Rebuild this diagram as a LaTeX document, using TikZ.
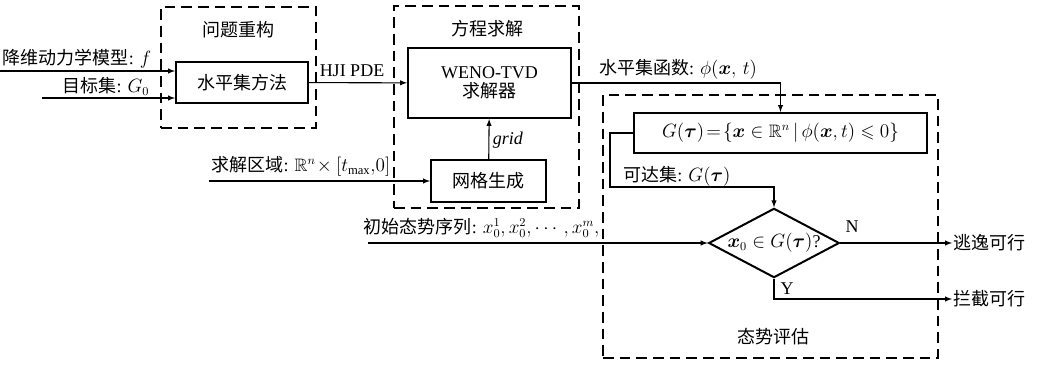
\documentclass[tikz,border=0pt]{standalone}
\usepackage{amsmath}
\usepackage{amssymb}
\usepackage{fontspec}
\setmainfont{Liberation Serif}
\newfontfamily\cjk{Noto Sans CJK SC}
\usetikzlibrary{shapes.geometric, arrows, positioning}
\tikzstyle{block} = [rectangle, draw, line width=1.5pt, inner sep=0pt, text centered]
\tikzstyle{group} = [rectangle, draw, line width=1pt, dash pattern=on 8pt off 4.5pt, inner sep=0pt]
\tikzstyle{decision} = [diamond, draw, line width=1.5pt, inner sep=0pt, aspect=1.9, minimum width=98pt, minimum height=52pt]
\tikzstyle{txt} = [inner sep=1pt]
\tikzstyle{arrow} = [line width=0.8pt,->,>=latex]

\begin{document}
\begin{tikzpicture}[x=0.75pt, y=-0.75pt, font=\fontsize{13.5}{16}\selectfont]
    \useasboundingbox (0,0) rectangle (1038,364);

    % Groups
    \node (recon) [group, minimum width=116.25pt, minimum height=90.75pt] at (238.5,67.5) {};
    \node (solve) [group, minimum width=138.75pt, minimum height=151.5pt] at (486.5,107) {};
    \node (assess) [group, minimum width=251.25pt, minimum height=197.25pt] at (770.5,226.5) {};
    \node (recon_t) [txt] at (238,30) {\cjk 问题重构};
    \node (solve_t) [txt] at (487,29) {\cjk 方程求解};
    \node (assess_t) [txt] at (773,337) {\cjk 态势评估};

    % Blocks
    \node (lsm) [block, minimum width=99pt, minimum height=30.75pt] at (242,82.5) {\cjk 水平集方法};
    \node (weno) [block, minimum width=122.25pt, minimum height=52.5pt, align=center] at (489.5,83) {WENO-TVD\\[-2pt]{\cjk 求解器}};
    \node (mesh) [block, minimum width=86.25pt, minimum height=31.5pt] at (488.5,181) {\cjk 网格生成};
    \node (gset) [block, minimum width=219.75pt, minimum height=30pt] at (780.5,133)
        {$G(\boldsymbol{\tau})\!=\!\{\boldsymbol{x}\in\mathbb{R}^n\,|\,\phi(\boldsymbol{x},t)\leqslant 0\}$};
    \node (check) [decision] at (774,243) {$\boldsymbol{x}_0\in G(\boldsymbol{\tau})$?};

    % Inputs and outputs
    \coordinate (f_in) at (0,71);
    \coordinate (g_in) at (42,98);
    \coordinate (dom_in) at (209,181);
    \coordinate (seq_in) at (368,243);
    \coordinate (turn_a) at (610,133);
    \coordinate (turn_b) at (610,187);
    \coordinate (turn_c) at (774,187);
    \coordinate (y_turn) at (774,299);
    \node (escape) [txt, anchor=west] at (952,243) {\cjk 逃逸可行};
    \node (capture) [txt, anchor=west] at (952,299) {\cjk 拦截可行};

    % Labels
    \node (f_lab) [txt] at (77,59) {{\cjk 降维动力学模型}: $f$};
    \node (g_lab) [txt] at (106,86) {{\cjk 目标集}: $G_0$};
    \node (pde_lab) [txt] at (352,71) {HJI PDE};
    \node (phi_lab) [txt] at (678,69) {{\cjk 水平集函数}: $\phi(\boldsymbol{x},\,t)$};
    \node (reach_lab) [txt] at (677,176) {{\cjk 可达集}: $G(\boldsymbol{\tau})$};
    \node (grid_lab) [txt] at (508,140) {\textit{grid}};
    \node (dom_lab) [txt] at (301,166) {{\cjk 求解区域}: $\mathbb{R}^n\!\times[t_{\max},\!0]$};
    \node (seq_lab) [txt, anchor=east] at (601,228) {{\cjk 初始态势序列}: $x_0^1,x_0^2,\cdots,x_0^m,$};
    \node (n_lab) [txt] at (852,227) {N};
    \node (y_lab) [txt] at (787,289) {Y};

    % Arrows
    \draw [arrow] (f_in) -- (f_in -| lsm.west);
    \draw [arrow] (g_in) -- (g_in -| lsm.west);
    \draw [arrow] (lsm) -- (weno);
    \draw [arrow] (dom_in) -- (mesh.west);
    \draw [arrow] (mesh) -- (weno);
    \draw [arrow] (weno.east) -| (gset.north);
    \draw [arrow] (gset.west) -- (turn_a) -- (turn_b) -- (turn_c) -- (check.north);
    \draw [arrow] (seq_in) -- (check.west);
    \draw [arrow] (check.east) -- (escape.west);
    \draw [arrow] (check.south) -- (y_turn) -- (capture.west);
\end{tikzpicture}
\end{document}
